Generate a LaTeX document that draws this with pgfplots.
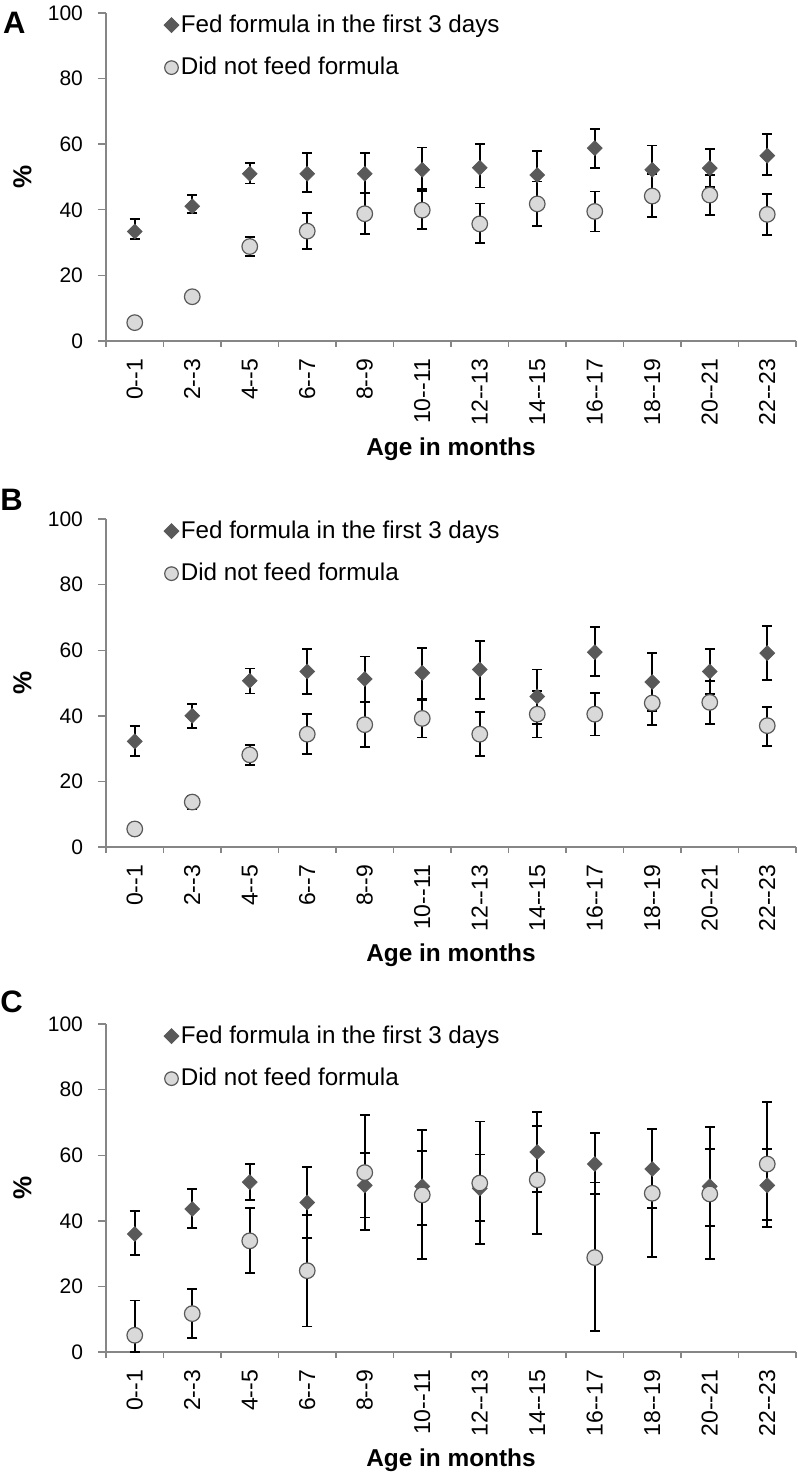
\documentclass[border=0pt]{standalone}
\usepackage{fontspec}
\setmainfont{Liberation Sans}
\usepackage{pgfplots}
\usepackage{pgfplotstable}
\pgfplotsset{compat=1.18}

\definecolor{fedgray}{HTML}{595959}
\definecolor{nofeed}{HTML}{D9D9D9}
\definecolor{axisgray}{HTML}{868686}

% columns: category index, value, upper end, lower end of the error bar
\pgfplotstableread{
x y hi lo
0 33.4 37.3 31.1
1 41.1 44.4 39.0
2 51.0 54.3 48.0
3 51.0 57.3 45.4
4 51.0 57.3 45.1
5 52.2 59.0 46.4
6 52.8 60.0 46.8
7 50.6 58.0 43.2
8 58.8 64.7 52.7
9 52.2 59.6 44.8
10 52.7 58.5 46.9
11 56.5 63.1 50.5
}\fedA
\pgfplotstableread{
x y hi lo
0 5.6 7.0 4.2
1 13.5 15.0 12.0
2 28.8 31.8 25.8
3 33.5 39.1 28.0
4 38.8 45.1 32.7
5 39.9 45.7 34.1
6 35.7 41.9 29.8
7 41.8 48.6 35.0
8 39.5 45.6 33.4
9 44.2 50.9 37.7
10 44.5 50.7 38.3
11 38.6 44.9 32.4
}\noA
\pgfplotstableread{
x y hi lo
0 32.2 36.8 27.8
1 40.0 43.5 36.4
2 50.7 54.4 46.8
3 53.5 60.4 46.6
4 51.2 58.1 44.2
5 53.1 60.7 45.3
6 54.1 62.9 45.2
7 45.9 54.1 37.5
8 59.4 67.0 52.2
9 50.3 59.1 41.5
10 53.5 60.3 46.7
11 59.1 67.4 50.8
}\fedB
\pgfplotstableread{
x y hi lo
0 5.5 7.5 3.5
1 13.7 15.7 11.7
2 28.1 31.2 25.1
3 34.4 40.6 28.3
4 37.3 44.3 30.6
5 39.2 44.9 33.4
6 34.4 41.1 27.8
7 40.5 47.6 33.4
8 40.5 46.9 34.0
9 43.9 50.5 37.1
10 44.1 50.6 37.6
11 37.0 42.8 30.9
}\noB
\pgfplotstableread{
x y hi lo
0 36.0 42.9 29.6
1 43.6 49.6 37.8
2 51.8 57.3 46.4
3 45.6 56.5 34.7
4 50.8 60.7 41.0
5 50.5 61.4 38.8
6 49.9 60.2 40.0
7 61.0 73.1 48.9
8 57.3 66.8 48.1
9 55.8 67.9 43.9
10 50.5 61.8 38.3
11 50.8 61.8 40.3
}\fedC
\pgfplotstableread{
x y hi lo
0 5.1 15.7 0.0
1 11.7 19.2 4.2
2 33.9 43.9 24.0
3 24.8 41.7 7.8
4 54.7 72.3 37.1
5 47.9 67.7 28.3
6 51.5 70.3 32.9
7 52.5 68.9 35.9
8 28.8 51.7 6.3
9 48.4 67.9 28.9
10 48.2 68.5 28.3
11 57.3 76.3 38.1
}\noC

\pgfplotsset{
  panel/.style={
    scale only axis, width=345pt, height=164pt,
    xmin=-0.5, xmax=11.5, ymin=0, ymax=100,
    clip=false,
    axis x line*=bottom, axis y line*=left,
    axis line style={axisgray, line width=0.7pt},
    tick align=outside,
    every tick/.style={axisgray, line width=0.7pt},
    major tick length=4pt, minor tick length=3pt,
    xtick={0,...,11},
    major x tick style={draw=none},
    minor xtick={-0.5,0.5,...,11.5},
    xticklabels={0-{}-1,2-{}-3,4-{}-5,6-{}-7,8-{}-9,10-{}-11,12-{}-13,14-{}-15,16-{}-17,18-{}-19,20-{}-21,22-{}-23},
    xticklabel style={rotate=90, anchor=east, xshift=-1.5pt, font=\fontsize{11.5}{11.5}\selectfont},
    ytick={0,20,...,100},
    yticklabel style={font=\fontsize{10.5}{10.5}\selectfont, xshift=-4pt},
    /pgf/number format/assume math mode=true,
    xlabel={\bfseries Age in months},
    xlabel style={at={(axis description cs:0.5,-0.33)}, anchor=center, font=\fontsize{12.2}{12.2}\selectfont},
    ylabel={\bfseries\%},
    ylabel style={at={(axis description cs:-0.121,0.5)}, anchor=center, font=\fontsize{13}{13}\selectfont},
    legend style={draw=none, fill=none, at={(0.075,1.02)}, anchor=north west,
      font=\fontsize{12.1}{12.1}\selectfont, row sep=7pt,
      nodes={inner xsep=1pt}},
    legend cell align=left,
  },
  bars/.style={
    error bars/y dir=both, error bars/y explicit,
    error bars/error bar style={black, line width=0.9pt},
    error bars/error mark options={rotate=90, mark size=2.5pt, black, line width=0.9pt}},
  fedmark/.style={only marks, mark=square*, mark size=2.6pt,
    mark options={rotate=45, fill=fedgray, draw=fedgray}},
  nomark/.style={only marks, mark=*, mark size=3.9pt,
    mark options={fill=nofeed, draw=fedgray, line width=0.6pt}},
}

\newcommand{\panel}[2]{%
  \addplot[fedmark, bars, forget plot] table[x=x, y=y,
    y error plus expr=\thisrow{hi}-\thisrow{y},
    y error minus expr=\thisrow{y}-\thisrow{lo}] {#1};
  \addplot[nomark, bars, forget plot] table[x=x, y=y,
    y error plus expr=\thisrow{hi}-\thisrow{y},
    y error minus expr=\thisrow{y}-\thisrow{lo}] {#2};
  \addlegendimage{fedmark}
  \addlegendentry{Fed formula in the first 3 days}
  \addlegendimage{nomark, mark size=3.4pt}
  \addlegendentry{Did not feed formula}
}

\begin{document}
\begin{tikzpicture}
\useasboundingbox (-53pt,-567.5pt) rectangle (345.5pt,170.5pt);

\begin{axis}[panel, at={(0,0)}]
\panel{\fedA}{\noA}
\node[font=\bfseries\fontsize{15.5}{15.5}\selectfont] at (axis description cs:-0.133,0.969) {A};
\end{axis}

\begin{axis}[panel, at={(0,-253pt)}]
\panel{\fedB}{\noB}
\node[font=\bfseries\fontsize{15.5}{15.5}\selectfont] at (axis description cs:-0.137,1.058) {B};
\end{axis}

\begin{axis}[panel, at={(0,-505.5pt)}]
\panel{\fedC}{\noC}
\node[font=\bfseries\fontsize{15.5}{15.5}\selectfont] at (axis description cs:-0.137,1.067) {C};
\end{axis}
\end{tikzpicture}
\end{document}
